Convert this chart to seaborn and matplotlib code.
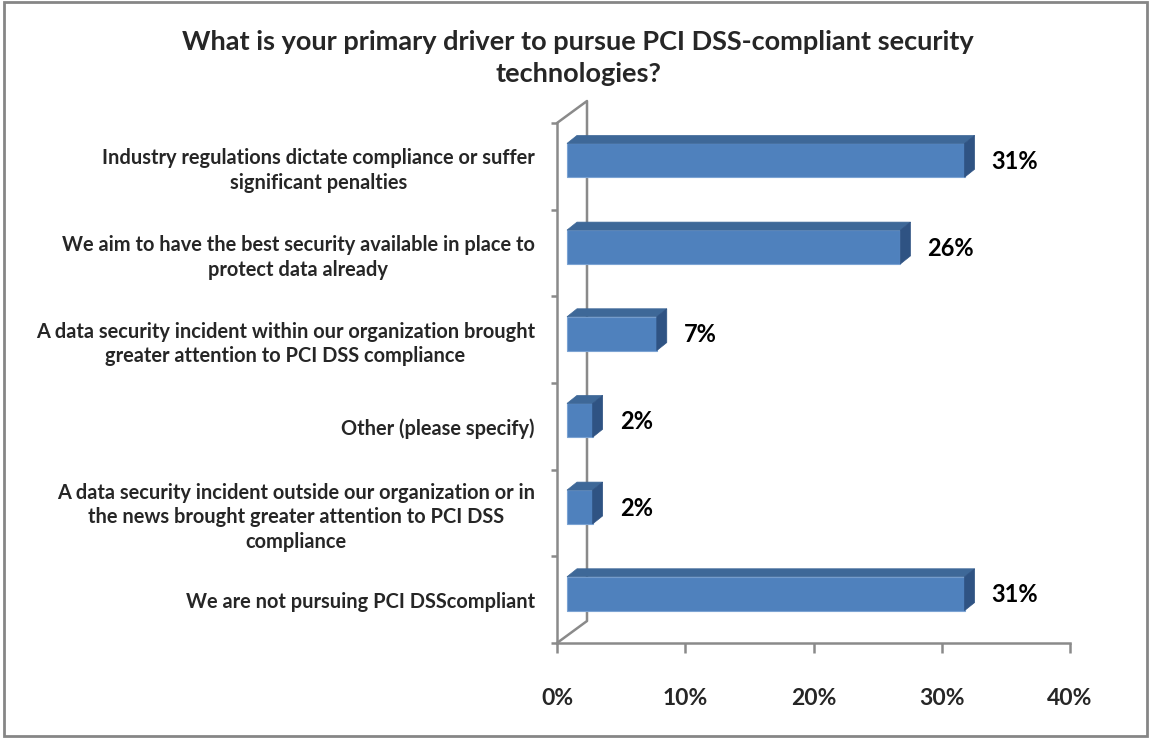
import numpy as np
import pandas as pd
import matplotlib
matplotlib.use("Agg")
from matplotlib import pyplot as plt
from matplotlib.patches import Polygon, Rectangle
import matplotlib.transforms as mtransforms
import seaborn as sns

title = "What is your primary driver to pursue PCI DSS-compliant security\ntechnologies?"
categories = [
    "Industry regulations dictate compliance or suffer\nsignificant penalties",
    "We aim to have the best security available in place to\nprotect data already",
    "A data security incident within our organization brought\ngreater attention to PCI DSS compliance",
    "Other (please specify)",
    "A data security incident outside our organization or in\nthe news brought greater attention to PCI DSS\ncompliance",
    "We are not pursuing PCI DSScompliant",
]
shares = [31, 26, 7, 2, 2, 31]
x_ticks = [0, 10, 20, 30, 40]
x_tick_labels = ["0%", "10%", "20%", "30%", "40%"]

front_color = "#4F81BD"
top_color = "#3E6898"
side_color = "#2F5383"
grey = "#8A8A8A"

sns.set_style("white")
plt.rcParams["font.family"] = ["Lato", "DejaVu Sans"]

W, H = 1150, 738
fig = plt.figure(figsize=(W / 100, H / 100), dpi=100)
ax = fig.add_axes([557 / W, 1 - 643 / H, 513 / W, 520 / H])

df = pd.DataFrame({"Driver": categories, "Share": shares})
sns.barplot(data=df, x="Share", y="Driver", orient="h", color=front_color,
            saturation=1, width=0.39, edgecolor="#7BA3D3", linewidth=0.8,
            ax=ax, zorder=3)
ax.set_xlim(0, 40)
ax.set_ylim(len(categories) - 0.5, -0.5)
ax.set_xlabel("")
ax.set_ylabel("")

# axes look
sns.despine(ax=ax)
for side in ["left", "bottom"]:
    ax.spines[side].set_color(grey)
    ax.spines[side].set_linewidth(1.8)
ax.set_xticks(x_ticks)
ax.set_xticklabels(x_tick_labels)
ax.tick_params(axis="x", bottom=True, direction="out", length=7.2, width=1.8,
               color=grey, pad=25, labelsize=16.5)
ax.tick_params(axis="y", which="major", left=True, length=0, pad=16, labelsize=14.4)
ax.set_yticks(np.arange(-0.5, len(categories), 1), minor=True)
ax.tick_params(axis="y", which="minor", left=True, direction="out", length=4.3,
               width=1.8, color=grey)
for lbl in ax.get_xticklabels():
    lbl.set_fontweight("bold")
for lbl in ax.get_yticklabels():
    lbl.set_fontweight("bold")
    lbl.set_multialignment("center")
    lbl.set_linespacing(1.3)

# back wall edges (3D look)
bb = ax.get_window_extent()
wx, wy = 30 / bb.width, 22 / bb.height
ax.plot([0, wx, wx, 0], [1, 1 + wy, wy, 0], transform=ax.transAxes,
        color=grey, lw=1.8, clip_on=False, zorder=1)

# shift bars into depth, add top and side faces
shift = mtransforms.ScaledTranslation(10 / 100, 6 / 100, fig.dpi_scale_trans)
to_fig = fig.transFigure.inverted()
dx, dy = 10, 8
for p in ax.patches:
    p.set_transform(ax.transData + shift)
    p.set_clip_on(False)
    pts = (ax.transData + shift).transform(
        [(p.get_x(), p.get_y()), (p.get_x() + p.get_width(), p.get_y() + p.get_height())])
    l, r = sorted(pts[:, 0])
    b, t = sorted(pts[:, 1])
    top = [(l, t), (r, t), (r + dx, t + dy), (l + dx, t + dy)]
    face = [(r, b), (r, t), (r + dx, t + dy), (r + dx, b + dy)]
    fig.add_artist(Polygon(to_fig.transform(top), closed=True, transform=fig.transFigure,
                           facecolor=top_color, edgecolor=top_color, lw=0.5))
    fig.add_artist(Polygon(to_fig.transform(face), closed=True, transform=fig.transFigure,
                           facecolor=side_color, edgecolor=side_color, lw=0.5))

# value labels
for p, v in zip(ax.patches, shares):
    ax.annotate(f"{v}%", xy=(p.get_x() + p.get_width(), p.get_y() + p.get_height() / 2),
                xytext=(37, 5), textcoords="offset pixels", ha="left", va="center",
                fontsize=17, fontweight="bold", color="black")

fig.text(578 / W, 1 - 58 / H, title, ha="center", va="center", fontsize=19.5,
         fontweight="bold", linespacing=1.35)

fig.add_artist(Rectangle((4 / W, 1 - 736 / H), 1143 / W, 734 / H, transform=fig.transFigure,
                         fill=False, edgecolor="#868686", lw=2))

fig.savefig("out.png", dpi=100)
